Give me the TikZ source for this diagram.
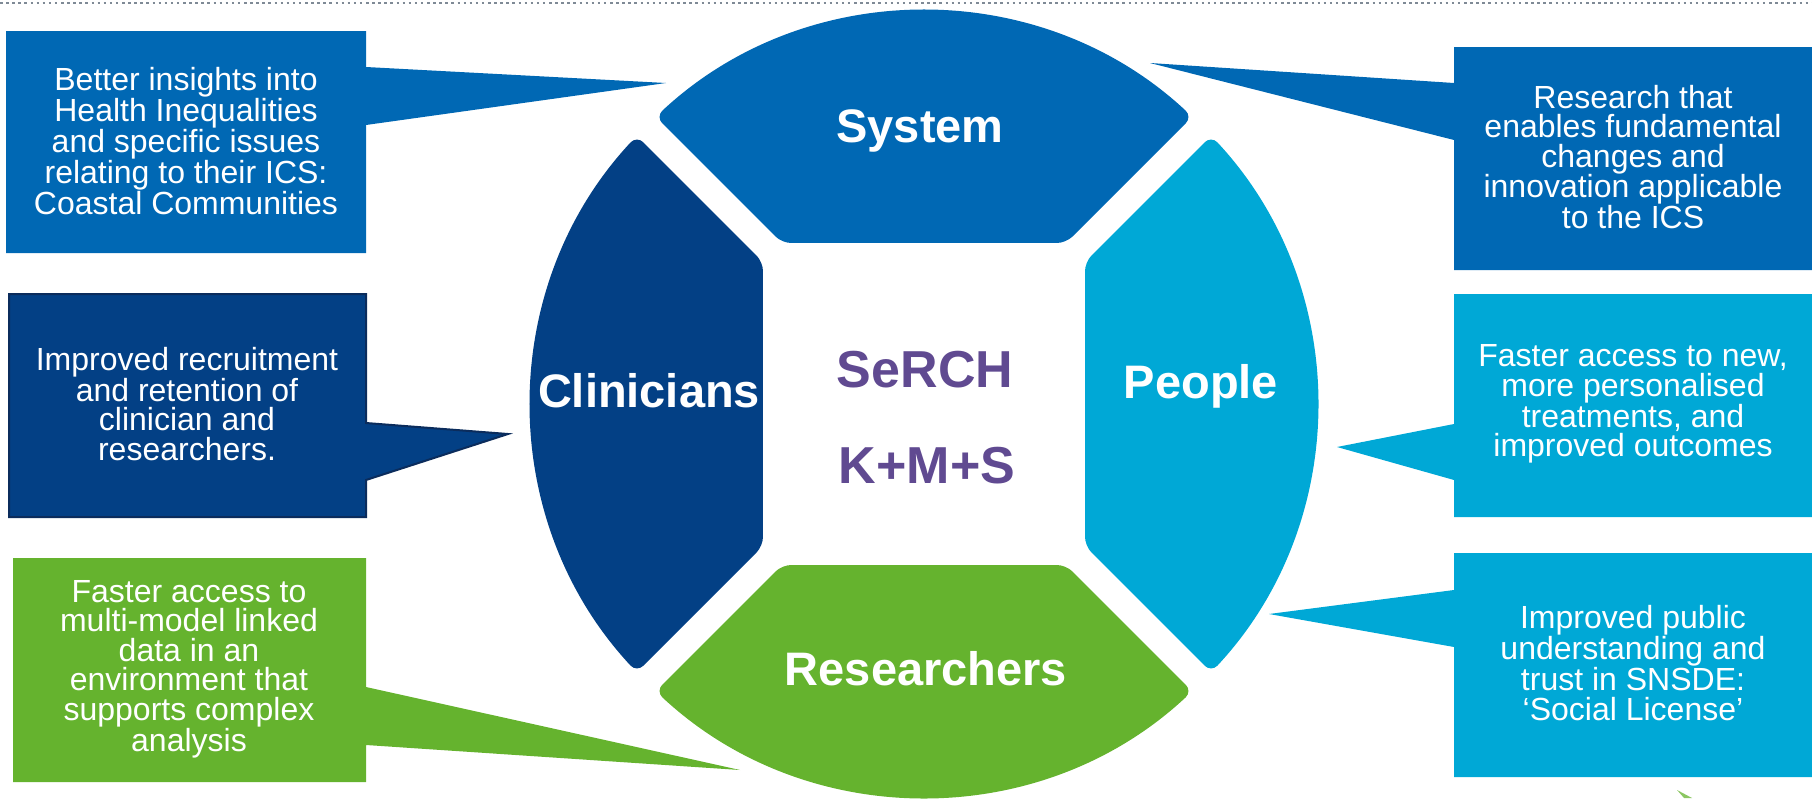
\documentclass[tikz,border=0pt]{standalone}
\usepackage{fontspec}
\setmainfont{Liberation Sans}
\definecolor{sysblue}{HTML}{0068B4}
\definecolor{clinblue}{HTML}{034085}
\definecolor{clinborder}{HTML}{0B2C5C}
\definecolor{peoplecyan}{HTML}{00A8D6}
\definecolor{resgreen}{HTML}{65B32E}
\definecolor{serchpurple}{HTML}{604A91}
\definecolor{dotgray}{HTML}{7F8A96}
\tikzset{
  seglabel/.style={text=white, font=\fontsize{47}{50}\selectfont\bfseries, anchor=base, inner sep=0pt},
  boxtext/.style={text=white, font=\fontsize{32}{29.5}\selectfont, align=center, inner sep=0pt},
  centertext/.style={text=serchpurple, font=\fontsize{52}{55}\selectfont\bfseries, anchor=base, inner sep=0pt},
  segfill/.style={rounded corners=9pt},
}
\newcommand\segpiece[2]{%
  \fill[#2, segfill] ({#1-43.04}:393) arc[start angle={#1-43.04}, end angle={#1+43.04}, radius=393]
    -- ({#1+41.41}:214.7) -- ({#1-41.41}:214.7) -- cycle;}
\begin{document}
\begin{tikzpicture}[x=1pt,y=-1pt]
\useasboundingbox (0,0) rectangle (1812,798);
% top dotted rule
\coordinate (ruleL) at (0,3);
\coordinate (ruleR) at (1812,3);
\draw[dotgray, line width=2.5pt, dash pattern=on 2.5pt off 3.6pt] (ruleL) -- (ruleR);

% pointer tips
\coordinate (tip1) at (666,83);
\coordinate (tip2) at (1150,63);
\coordinate (tip3) at (508,434);
\coordinate (tip4) at (1337,447);
\coordinate (tip5) at (740,770);
\coordinate (tip6) at (1269,614);

% callouts
\fill[sysblue] (6,31) -- (366,31) -- (366,67) -- (tip1) -- (366,125) -- (366,253) -- (6,253) -- cycle;
\fill[sysblue] (1454,47) -- (1812,47) -- (1812,270) -- (1454,270) -- (1454,140) -- (tip2) -- (1454,83) -- cycle;
\filldraw[fill=clinblue, draw=clinborder, line width=2pt] (9,294) -- (366,294) -- (366,423) -- (tip3) -- (366,480) -- (366,517) -- (9,517) -- cycle;
\fill[peoplecyan] (1454,294) -- (1812,294) -- (1812,517) -- (1454,517) -- (1454,480) -- (tip4) -- (1454,424) -- cycle;
\fill[resgreen] (13,558) -- (366,558) -- (366,687) -- (tip5) -- (366,745) -- (366,782) -- (13,782) -- cycle;
\fill[peoplecyan] (1454,553) -- (1812,553) -- (1812,777) -- (1454,777) -- (1454,647) -- (tip6) -- (1454,590) -- cycle;

% callout texts
\node[boxtext] (t1) at (186,141) {Better insights into\\Health Inequalities\\and specific issues\\relating to their ICS:\\Coastal Communities};
\node[boxtext] (t2) at (1633,157) {Research that\\enables fundamental\\changes and\\innovation applicable\\to the ICS};
\node[boxtext] (t3) at (187,404) {Improved recruitment\\and retention of\\clinician and\\researchers.};
\node[boxtext] (t4) at (1633,404) {Faster access to new,\\more personalised\\treatments, and\\improved outcomes};
\node[boxtext] (t5) at (189,669) {Faster access to\\multi-model linked\\data in an\\environment that\\supports complex\\analysis};
\node[boxtext] (t6) at (1633,663) {Improved public\\understanding and\\trust in SNSDE:\\‘Social License’};

% circle segments
\begin{scope}[shift={(924,404)}]
  \segpiece{-90}{sysblue}
  \segpiece{180}{clinblue}
  \segpiece{0}{peoplecyan}
  \segpiece{90}{resgreen}
\end{scope}

% segment labels
\node[seglabel] (lsys) at (920,142) {System};
\node[seglabel] (lclin) at (649,407) {Clinicians};
\node[seglabel] (lpeople) at (1201,398) {People};
\node[seglabel] (lres) at (926,685) {Researchers};
\node[centertext] (serch) at (925,387) {SeRCH};
\node[centertext] (kms) at (927,483) {K+M+S};

% small green mark at bottom right
\fill[resgreen!75] (1677,790) -- (1692,798) -- (1684,798) -- cycle;
\end{tikzpicture}
\end{document}
